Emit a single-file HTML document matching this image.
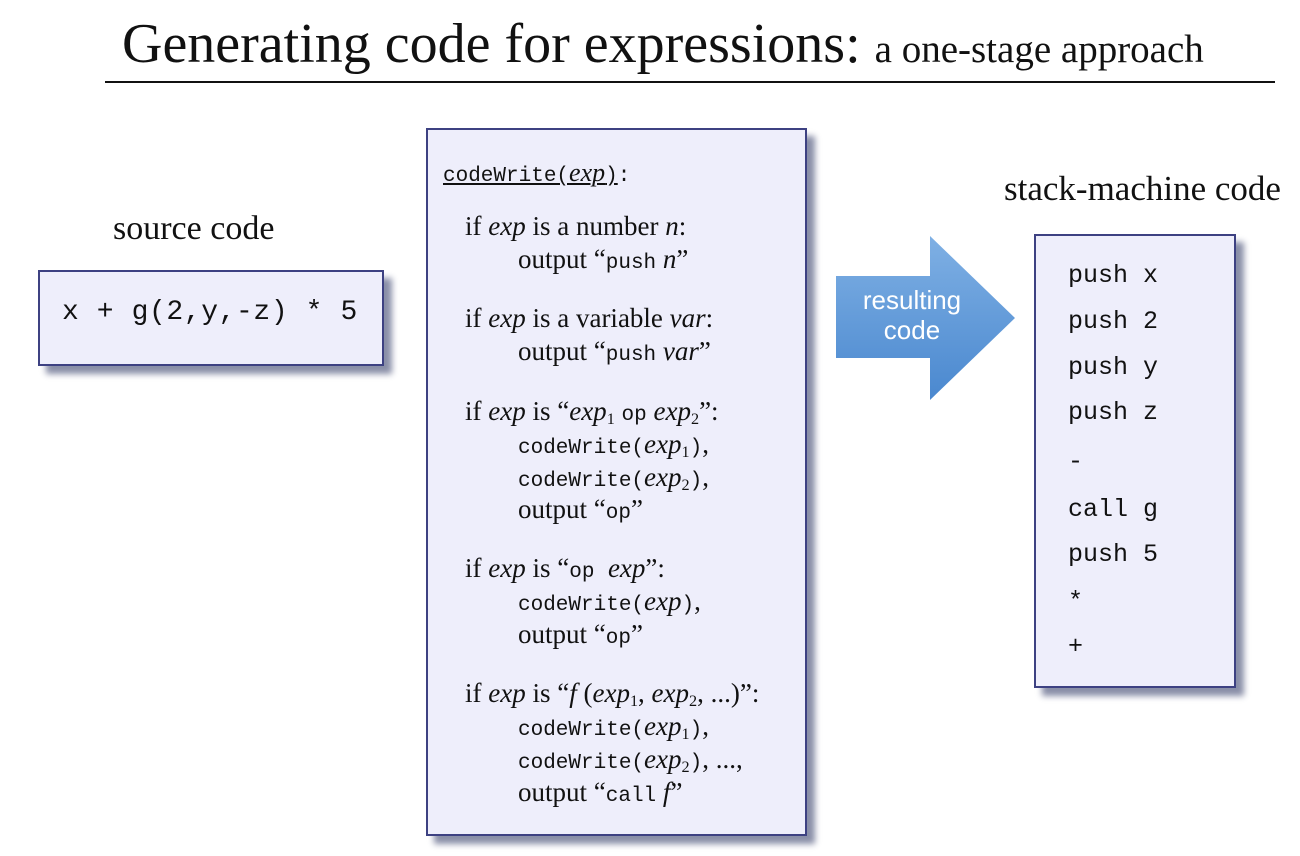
<!DOCTYPE html>
<html><head><meta charset="utf-8"><style>
body{margin:0;width:1300px;height:856px;background:#fff;position:relative;overflow:hidden;font-family:"Liberation Serif",serif;color:#111}
.a{position:absolute;white-space:nowrap;line-height:1}
.box{position:absolute;background:#eeeefb;border:2px solid #3d4182;box-shadow:8px 8px 6px #8a8fa8}
.m{font-family:"Liberation Mono",monospace}
.s{font-size:27px}
.c{font-size:21px;font-family:"Liberation Mono",monospace}
i{font-style:italic}
sub{font-size:0.6em;vertical-align:-0.25em;line-height:0}
.r{font-size:25px;font-family:"Liberation Mono",monospace;left:1068px}
</style></head><body>
<div class="a" style="left:122px;top:16px;font-size:56px">Generating code for expressions: <span style="font-size:39px">a one-stage approach</span></div>
<div style="position:absolute;left:105px;top:81px;width:1170px;height:2px;background:#111"></div>

<div class="a" style="left:113px;top:212px;font-size:34px">source code</div>
<div class="box" style="left:38px;top:270px;width:342px;height:92px"></div>
<div class="a m" style="left:62px;top:299px;font-size:28px;letter-spacing:0.6px">x + g(2,y,-z) * 5</div>

<div class="box" style="left:426px;top:128px;width:377px;height:704px"></div>
<div class="a c" style="left:443px;top:160px"><u>codeWrite(<i style="font-family:'Liberation Serif',serif;font-size:26px">exp</i>)</u>:</div>
<div class="a s" style="left:465px;top:213px">if <i>exp</i> is a number <i>n</i>:</div>
<div class="a s" style="left:518px;top:246px">output “<span class="c">push</span> <i>n</i>”</div>
<div class="a s" style="left:465px;top:305px">if <i>exp</i> is a variable <i>var</i>:</div>
<div class="a s" style="left:518px;top:338px">output “<span class="c">push</span> <i>var</i>”</div>
<div class="a s" style="left:465px;top:398px">if <i>exp</i> is “<i>exp</i><sub>1</sub> <span class="c">op</span> <i>exp</i><sub>2</sub>”:</div>
<div class="a s" style="left:518px;top:431px"><span class="c">codeWrite(</span><i>exp</i><sub>1</sub><span class="c">)</span>,</div>
<div class="a s" style="left:518px;top:464px"><span class="c">codeWrite(</span><i>exp</i><sub>2</sub><span class="c">)</span>,</div>
<div class="a s" style="left:518px;top:496px">output “<span class="c">op</span>”</div>
<div class="a s" style="left:465px;top:555px">if <i>exp</i> is “<span class="c">op</span>&nbsp; <i>exp</i>”:</div>
<div class="a s" style="left:518px;top:588px"><span class="c">codeWrite(</span><i>exp</i><span class="c">)</span>,</div>
<div class="a s" style="left:518px;top:621px">output “<span class="c">op</span>”</div>
<div class="a s" style="left:465px;top:680px">if <i>exp</i> is “<i>f</i> (<i>exp</i><sub>1</sub>, <i>exp</i><sub>2</sub>, ...)”:</div>
<div class="a s" style="left:518px;top:713px"><span class="c">codeWrite(</span><i>exp</i><sub>1</sub><span class="c">)</span>,</div>
<div class="a s" style="left:518px;top:746px"><span class="c">codeWrite(</span><i>exp</i><sub>2</sub><span class="c">)</span>, ...,</div>
<div class="a s" style="left:518px;top:779px">output “<span class="c">call</span> <i>f</i>”</div>

<svg style="position:absolute;left:0;top:0" width="1300" height="856">
<defs><linearGradient id="g" x1="0" y1="0" x2="0" y2="1"><stop offset="0" stop-color="#7fb0e4"/><stop offset="1" stop-color="#4a88cf"/></linearGradient></defs>
<polygon points="836,276 930,276 930,236 1015,318 930,400 930,358 836,358" fill="url(#g)"/>
<text x="912" y="309" font-family="Liberation Sans,sans-serif" font-size="26" fill="#fff" text-anchor="middle">resulting</text>
<text x="912" y="339" font-family="Liberation Sans,sans-serif" font-size="26" fill="#fff" text-anchor="middle">code</text>
</svg>

<div class="a" style="left:1004px;top:171px;font-size:35px">stack-machine code</div>
<div class="box" style="left:1034px;top:234px;width:198px;height:450px"></div>
<div class="a r" style="top:263px">push x</div>
<div class="a r" style="top:309px">push 2</div>
<div class="a r" style="top:355px">push y</div>
<div class="a r" style="top:400px">push z</div>
<div class="a r" style="top:449px">-</div>
<div class="a r" style="top:497px">call g</div>
<div class="a r" style="top:542px">push 5</div>
<div class="a r" style="top:589px">*</div>
<div class="a r" style="top:634px">+</div>
</body></html>
